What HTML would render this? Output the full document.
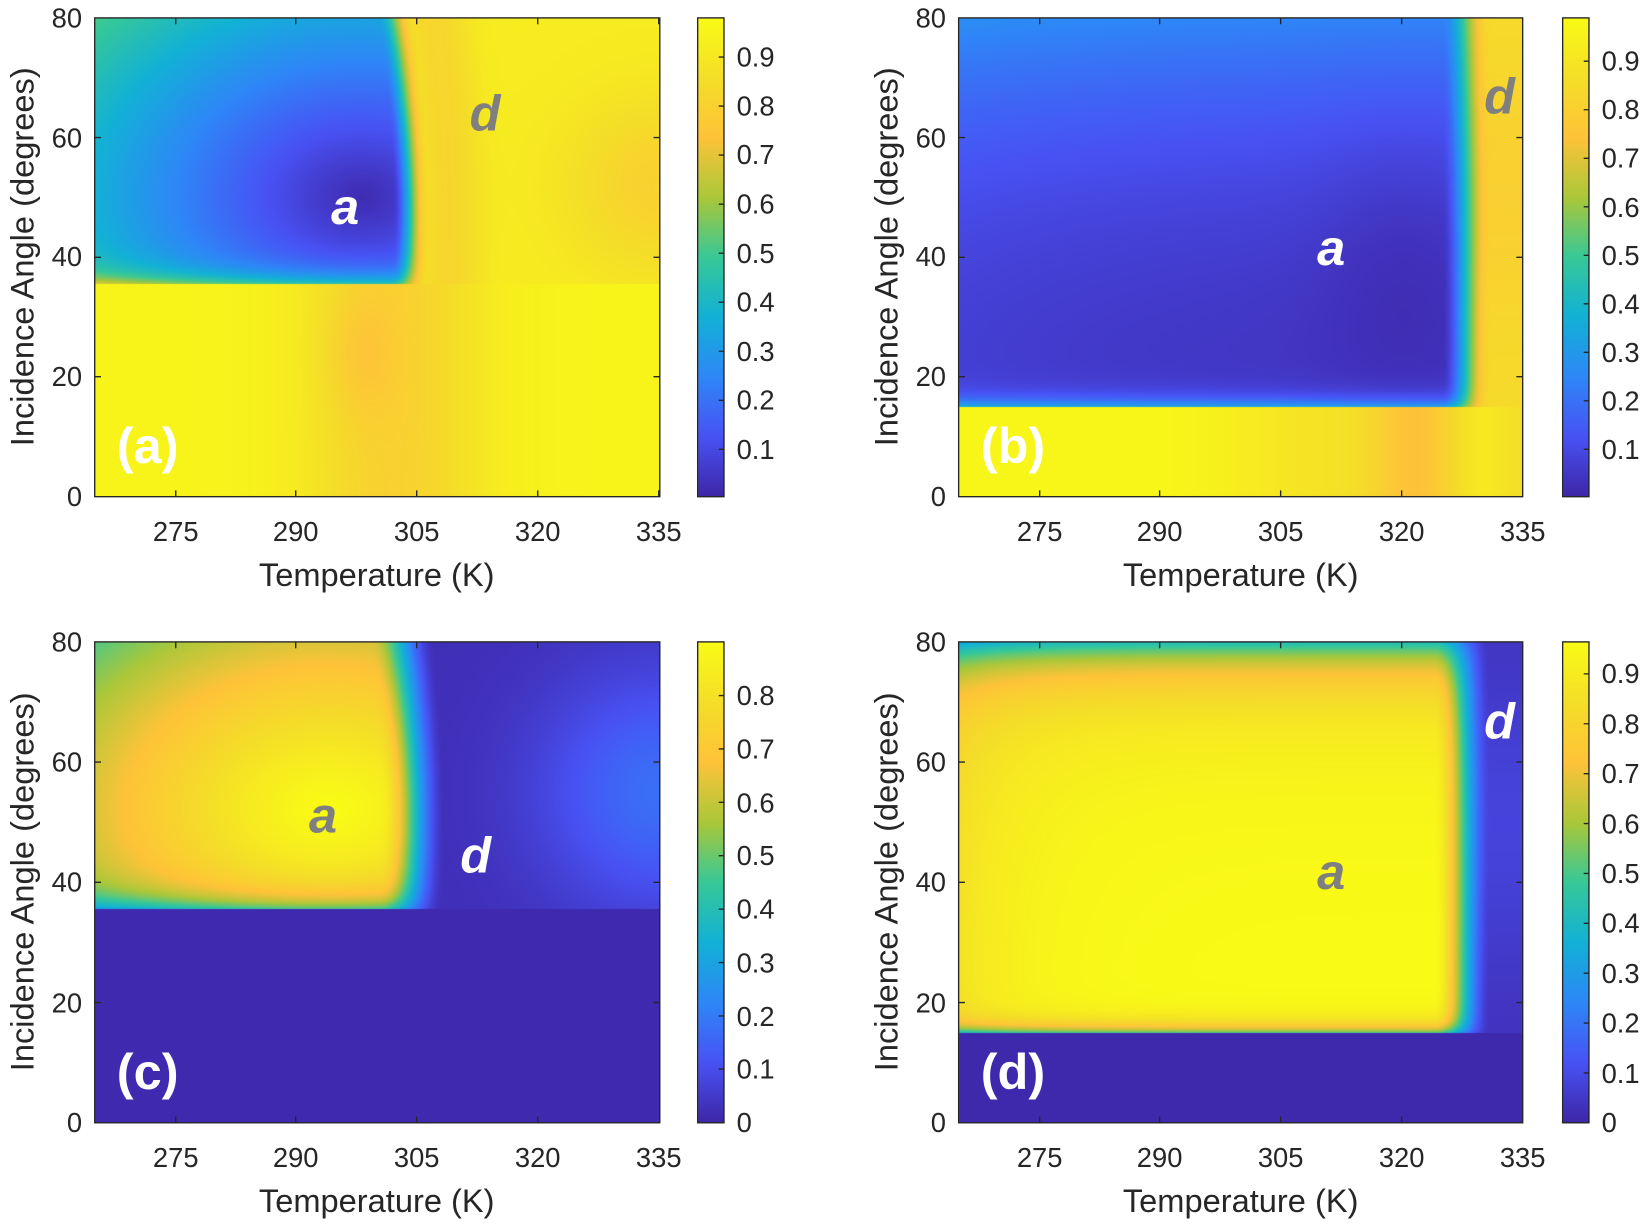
<!DOCTYPE html>
<html><head><meta charset="utf-8">
<style>
html,body{margin:0;padding:0;background:#fff;}
#wrap{position:relative;width:1650px;height:1228px;overflow:hidden;}
canvas,svg{position:absolute;left:0;top:0;}
text{font-family:"Liberation Sans",sans-serif;}
</style></head><body>
<div id="wrap">
<canvas id="c" width="1650" height="1228"></canvas>
<svg width="1650" height="1228" viewBox="0 0 1568 1167" preserveAspectRatio="none">
<g fill="none" stroke="#262626" stroke-width="1.3">
<rect x="90" y="17" width="537" height="455"/>
<rect x="911" y="17" width="536" height="455"/>
<rect x="90" y="610" width="537" height="457"/>
<rect x="911" y="610" width="536" height="457"/>
<rect x="663" y="17" width="25" height="455"/>
<rect x="1485" y="17" width="25" height="455"/>
<rect x="663" y="610" width="25" height="457"/>
<rect x="1485" y="610" width="25" height="457"/>
<path d="M167 472v-6M281 472v-6M396 472v-6M511 472v-6M626 472v-6M167 17v6M281 17v6M396 17v6M511 17v6M626 17v6
M90 358h6M90 244.5h6M90 130.75h6M627 358h-6M627 244.5h-6M627 130.75h-6"/>
<path d="M988 472v-6M1102 472v-6M1217 472v-6M1332 472v-6M988 17v6M1102 17v6M1217 17v6M1332 17v6
M911 358h6M911 244.5h6M911 130.75h6M1447 358h-6M1447 244.5h-6M1447 130.75h-6"/>
<path d="M167 1067v-6M281 1067v-6M396 1067v-6M511 1067v-6M167 610v6M281 610v6M396 610v6M511 610v6
M90 952.75h6M90 838.5h6M90 724.25h6M627 952.75h-6M627 838.5h-6M627 724.25h-6"/>
<path d="M988 1067v-6M1102 1067v-6M1217 1067v-6M1332 1067v-6M988 610v6M1102 610v6M1217 610v6M1332 610v6
M911 952.75h6M911 838.5h6M911 724.25h6M1447 952.75h-6M1447 838.5h-6M1447 724.25h-6"/>
<path d="M688 427h-5M688 380.4h-5M688 333.8h-5M688 287.2h-5M688 240.6h-5M688 194h-5M688 147.4h-5M688 100.8h-5M688 54.2h-5"/>
<path d="M1510 427h-5M1510 380.9h-5M1510 334.8h-5M1510 288.7h-5M1510 242.6h-5M1510 196.5h-5M1510 150.4h-5M1510 104.3h-5M1510 58.2h-5"/>
<path d="M688 1016h-5M688 965.5h-5M688 914.7h-5M688 864h-5M688 813.2h-5M688 762.5h-5M688 711.7h-5M688 661h-5"/>
<path d="M1510 1019.6h-5M1510 972.2h-5M1510 924.8h-5M1510 877.4h-5M1510 830h-5M1510 782.6h-5M1510 735.2h-5M1510 687.8h-5M1510 640.4h-5"/>
</g>
<g font-size="26" fill="#262626">
<g text-anchor="middle">
<text x="167" y="514">275</text><text x="281" y="514">290</text><text x="396" y="514">305</text><text x="511" y="514">320</text><text x="626" y="514">335</text>
<text x="988" y="514">275</text><text x="1102" y="514">290</text><text x="1217" y="514">305</text><text x="1332" y="514">320</text><text x="1447" y="514">335</text>
<text x="167" y="1109">275</text><text x="281" y="1109">290</text><text x="396" y="1109">305</text><text x="511" y="1109">320</text><text x="626" y="1109">335</text>
<text x="988" y="1109">275</text><text x="1102" y="1109">290</text><text x="1217" y="1109">305</text><text x="1332" y="1109">320</text><text x="1447" y="1109">335</text>
</g>
<g text-anchor="end">
<text x="78" y="481">0</text><text x="78" y="367">20</text><text x="78" y="253">40</text><text x="78" y="140">60</text><text x="78" y="26">80</text>
<text x="899" y="481">0</text><text x="899" y="367">20</text><text x="899" y="253">40</text><text x="899" y="140">60</text><text x="899" y="26">80</text>
<text x="78" y="1076">0</text><text x="78" y="962">20</text><text x="78" y="847">40</text><text x="78" y="733">60</text><text x="78" y="619">80</text>
<text x="899" y="1076">0</text><text x="899" y="962">20</text><text x="899" y="847">40</text><text x="899" y="733">60</text><text x="899" y="619">80</text>
</g>
<g>
<text x="700" y="436">0.1</text><text x="700" y="389">0.2</text><text x="700" y="343">0.3</text><text x="700" y="296">0.4</text><text x="700" y="250">0.5</text><text x="700" y="203">0.6</text><text x="700" y="156">0.7</text><text x="700" y="110">0.8</text><text x="700" y="63">0.9</text>
<text x="1522" y="436">0.1</text><text x="1522" y="390">0.2</text><text x="1522" y="344">0.3</text><text x="1522" y="298">0.4</text><text x="1522" y="252">0.5</text><text x="1522" y="206">0.6</text><text x="1522" y="159">0.7</text><text x="1522" y="113">0.8</text><text x="1522" y="67">0.9</text>
<text x="700" y="1076">0</text><text x="700" y="1025">0.1</text><text x="700" y="975">0.2</text><text x="700" y="924">0.3</text><text x="700" y="873">0.4</text><text x="700" y="822">0.5</text><text x="700" y="772">0.6</text><text x="700" y="721">0.7</text><text x="700" y="670">0.8</text>
<text x="1522" y="1076">0</text><text x="1522" y="1029">0.1</text><text x="1522" y="981">0.2</text><text x="1522" y="934">0.3</text><text x="1522" y="886">0.4</text><text x="1522" y="839">0.5</text><text x="1522" y="792">0.6</text><text x="1522" y="744">0.7</text><text x="1522" y="697">0.8</text><text x="1522" y="649">0.9</text>
</g>
</g>
<g font-size="31" fill="#262626" text-anchor="middle">
<text x="358" y="557">Temperature (K)</text>
<text x="1179" y="557">Temperature (K)</text>
<text x="358" y="1152">Temperature (K)</text>
<text x="1179" y="1152">Temperature (K)</text>
<text transform="translate(32,244) rotate(-90)">Incidence Angle (degrees)</text>
<text transform="translate(853,244) rotate(-90)">Incidence Angle (degrees)</text>
<text transform="translate(32,838) rotate(-90)">Incidence Angle (degrees)</text>
<text transform="translate(853,838) rotate(-90)">Incidence Angle (degrees)</text>
</g>
<g font-size="48" font-weight="bold" fill="#fff">
<text x="111" y="440">(a)</text>
<text x="932" y="440">(b)</text>
<text x="111" y="1035">(c)</text>
<text x="932" y="1035">(d)</text>
</g>
<g font-size="48" font-weight="bold" font-style="italic" text-anchor="middle">
<text x="328" y="213" fill="#fff">a</text>
<text x="461" y="124" fill="#7f7f7f">d</text>
<text x="1265" y="252" fill="#fff">a</text>
<text x="1425" y="108" fill="#7f7f7f">d</text>
<text x="307" y="791" fill="#7f7f7f">a</text>
<text x="452" y="829" fill="#fff">d</text>
<text x="1425" y="702" fill="#fff">d</text>
<text x="1265" y="845" fill="#7f7f7f">a</text>
</g>
</svg>
</div>
<script>
(function(){
const cv=document.getElementById('c'),ctx=cv.getContext('2d');
const W=1650,H=1228,sx=1650/1568,sy=1228/1167;
const img=ctx.createImageData(W,H),D=img.data;
for(let i=0;i<D.length;i+=4){D[i]=255;D[i+1]=255;D[i+2]=255;D[i+3]=255;}
const stops=[[0,62,38,168],[0.125,72,82,244],[0.25,46,135,247],[0.375,18,177,214],[0.5,55,200,151],[0.625,171,199,57],[0.75,254,195,56],[0.875,244,222,40],[1,249,251,21]];
function col(v){v=Math.max(0,Math.min(1,v));for(let i=1;i<stops.length;i++){if(v<=stops[i][0]){const a=stops[i-1],b=stops[i],t=(v-a[0])/(b[0]-a[0]);return [a[1]+(b[1]-a[1])*t,a[2]+(b[2]-a[2])*t,a[3]+(b[3]-a[3])*t];}}return stops[8].slice(1);}
const sq=x=>x*x,E=Math.exp;
function ss(a,b,x){let t=(x-a)/(b-a);t=Math.max(0,Math.min(1,t));return t*t*(3-2*t);}
function fa(T,A){
 if(A<35.5)return 0.95-0.15*E(-sq((T-302)/11))-0.07*E(-sq((T-298)/4)-sq((A-24)/10));
 const Tb=305-0.0015*sq(A-45);
 const d=Math.sqrt(sq((T-298)/24)+sq((A-50)/24));
 const inner=0.02+0.24*Math.pow(d,1.15)+0.3*E(-(A-35.5)/2);
 const right=0.92-0.12*E(-sq((T-335)/12)-sq((A-52)/15))-0.1*E(-sq((T-Tb-4)/4));
 const m=ss(Tb-3,Tb+1.5,T);return inner*(1-m)+right*m;}
function fb(T,A){
 if(A<15)return 0.97-0.2*E(-sq((T-322)/6))-0.08*E(-sq((T-310)/12))-0.1*E(-sq((T-335)/4));
 const Tb=329;
 const tri=0.03*E(-sq((T-320)/10)-sq((A-40)/25));
 const inner=0.04+0.2*Math.pow((A-15)/65,2.5)+0.3*E(-(A-15)/1.5)+0.03*E(-(T-265)/25)-tri;
 const right=0.85-0.05*E(-sq((A-50)/20));
 const m=ss(Tb-4,Tb+2,T);return inner*(1-m)+right*m;}
function fc(T,A){
 if(A<35.5)return 0.01;
 const Tb=304.5-0.0015*sq(A-50);
 const d=Math.sqrt(sq((T-294)/25)+sq((A-52)/24));
 const inner=Math.max(0,0.89-0.22*Math.pow(d,1.3)-0.3*E(-(A-35.5)/2.5));
 const right=0.02+0.15*E(-sq((T-335)/15)-sq((A-55)/20));
 const m=ss(Tb-4,Tb+4,T);return inner*(1-m)+right*m;}
function fd(T,A){
 if(A<15)return 0.005;
 const inner=0.96-0.4*E(-(80-A)/5)-0.15*E(-(80-A)/14)-0.1*E(-(T-265)/8)-0.45*E(-(A-15)/1.5);
 const right=0.03+0.05*E(-sq((A-50)/25));
 const m=ss(324,331,T);return inner*(1-m)+right*m;}
const P=[
 {x0:90,x1:627,y0:17,y1:472,f:fa,cx:663,cmin:0.003,cmax:0.98},
 {x0:911,x1:1447,y0:17,y1:472,f:fb,cx:1485,cmin:0.002,cmax:0.99},
 {x0:90,x1:627,y0:610,y1:1067,f:fc,cx:663,cmin:0,cmax:0.89},
 {x0:911,x1:1447,y0:610,y1:1067,f:fd,cx:1485,cmin:0,cmax:0.96}];
function put(px,py,c){const i=(py*W+px)*4;D[i]=c[0];D[i+1]=c[1];D[i+2]=c[2];}
for(const p of P){
 const X0=Math.round(p.x0*sx),X1=Math.round(p.x1*sx),Y0=Math.round(p.y0*sy),Y1=Math.round(p.y1*sy);
 const r=p.cmax-p.cmin;
 for(let py=Y0;py<Y1;py++){const dy=(py+0.5)/sy;const A=80*(p.y1-dy)/(p.y1-p.y0);
  for(let px=X0;px<X1;px++){const dx=(px+0.5)/sx;const T=265+70*(dx-p.x0)/(p.x1-p.x0);put(px,py,col((p.f(T,A)-p.cmin)/r));}
  const c=col((p.y1-dy)/(p.y1-p.y0));
  const C0=Math.round(p.cx*sx),C1=Math.round((p.cx+25)*sx);
  for(let px=C0;px<C1;px++)put(px,py,c);}
}
ctx.putImageData(img,0,0);
})();
</script>
</body></html>
